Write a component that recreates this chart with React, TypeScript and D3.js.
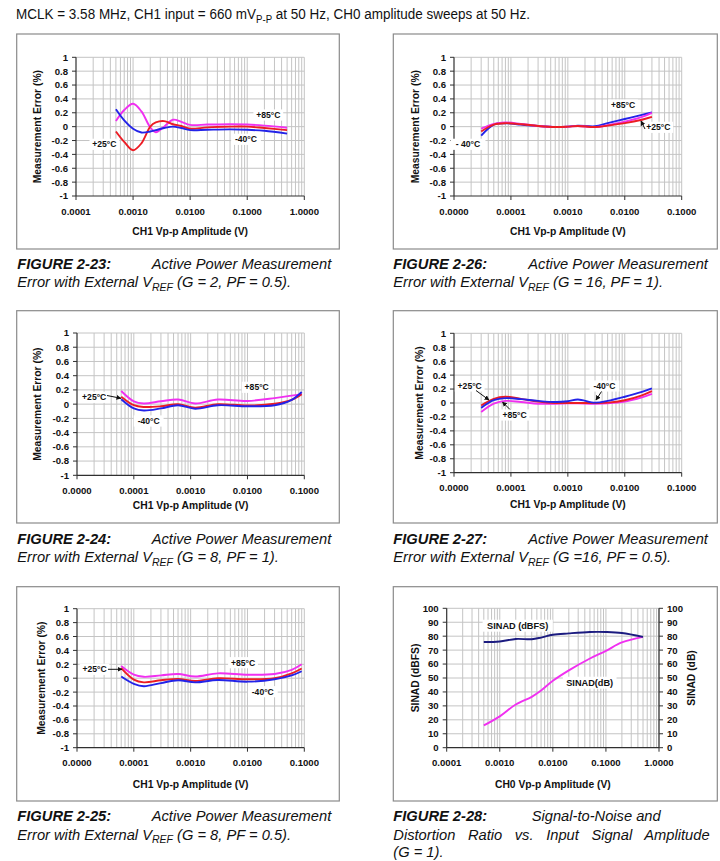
import React from "react";
import * as d3 from "d3";

const FONT = "'Liberation Sans', Arial, Helvetica, sans-serif";

// ---------- Figure 2-23: G = 2, PF = 0.5 ----------
const ampG2PF05 = [0.0005, 0.0007, 0.001, 0.0014, 0.002, 0.0025, 0.0035, 0.005, 0.007, 0.01, 0.02, 0.05, 0.1, 0.2, 0.5];
const errG2PF05M40 = [0.25, 0.09, -0.03, -0.085, -0.07, -0.05, -0.02, 0.0, -0.02, -0.05, -0.045, -0.04, -0.045, -0.06, -0.1];
const errG2PF05P25 = [-0.07, -0.22, -0.34, -0.24, 0.0, 0.06, 0.08, 0.035, 0.01, -0.03, -0.01, 0.0, 0.0, -0.02, -0.05];
const errG2PF05P85 = [0.08, 0.24, 0.33, 0.22, -0.01, -0.08, 0.0, 0.1, 0.07, 0.025, 0.03, 0.035, 0.03, 0.015, -0.015];

// ---------- Figure 2-26: G = 16, PF = 1 ----------
const ampG16PF1 = [0.00003, 0.00005, 0.00008, 0.00015, 0.0003, 0.0006, 0.001, 0.0015, 0.003, 0.005, 0.01, 0.02, 0.03];
const errG16PF1M40 = [-0.13, 0.03, 0.05, 0.03, 0.01, -0.005, 0.0, 0.015, 0.005, 0.05, 0.11, 0.17, 0.205];
const errG16PF1P25 = [-0.07, 0.03, 0.05, 0.035, 0.01, -0.005, 0.0, 0.01, -0.005, 0.015, 0.05, 0.1, 0.14];
const errG16PF1P85 = [-0.03, 0.04, 0.06, 0.04, 0.01, -0.005, 0.0, 0.01, -0.005, 0.02, 0.07, 0.14, 0.2];

// ---------- Figure 2-24: G = 8, PF = 1 ----------
const ampG8PF1 = [0.00006, 0.0001, 0.00015, 0.0003, 0.0006, 0.0012, 0.003, 0.01, 0.03, 0.06, 0.09];
const errG8PF1M40 = [0.07, -0.06, -0.09, -0.06, -0.015, -0.065, -0.015, -0.03, -0.015, 0.06, 0.17];
const errG8PF1P25 = [0.105, -0.015, -0.04, -0.03, 0.0, -0.05, 0.0, -0.02, 0.005, 0.06, 0.14];
const errG8PF1P85 = [0.185, 0.04, 0.01, 0.04, 0.065, 0.01, 0.065, 0.045, 0.085, 0.12, 0.14];

// ---------- Figure 2-27: G = 16, PF = 0.5 ----------
const ampG16PF05 = [0.00003, 0.00005, 0.00008, 0.00015, 0.0003, 0.0006, 0.001, 0.0015, 0.003, 0.005, 0.01, 0.02, 0.03];
const errG16PF05M40 = [-0.07, 0.04, 0.07, 0.055, 0.03, 0.015, 0.025, 0.05, 0.005, 0.03, 0.09, 0.16, 0.21];
const errG16PF05P25 = [-0.035, 0.06, 0.09, 0.06, 0.02, 0.0, 0.0, 0.0, 0.0, 0.005, 0.04, 0.11, 0.17];
const errG16PF05P85 = [-0.13, -0.01, 0.03, 0.015, -0.01, -0.01, -0.005, -0.005, -0.01, -0.005, 0.02, 0.08, 0.13];

// ---------- Figure 2-25: G = 8, PF = 0.5 ----------
const ampG8PF05 = [0.00006, 0.0001, 0.00015, 0.0003, 0.0006, 0.0012, 0.003, 0.01, 0.03, 0.06, 0.09];
const errG8PF05M40 = [0.025, -0.08, -0.115, -0.07, -0.03, -0.06, -0.025, -0.05, -0.015, 0.04, 0.1];
const errG8PF05P25 = [0.145, -0.02, -0.06, -0.03, -0.01, -0.04, 0.0, -0.015, 0.0, 0.07, 0.14];
const errG8PF05P85 = [0.175, 0.05, 0.02, 0.04, 0.06, 0.025, 0.07, 0.05, 0.06, 0.12, 0.2];

// ---------- Figure 2-28: SINAD vs. CH0 amplitude (G = 1) ----------
const ampSinad = [0.0005, 0.001, 0.002, 0.004, 0.006, 0.01, 0.02, 0.05, 0.1, 0.2, 0.5];
const sinadDbfs = [75.8, 76.2, 78, 77.8, 79, 81, 82, 83, 83, 82.3, 79.5];
const sinadDb = [16, 22.5, 31, 36.5, 41, 48, 55.5, 64, 69.5, 75.5, 79.5];

// ---------- Axis ticks ----------
const errorTicks = [-1, -0.8, -0.6, -0.4, -0.2, 0, 0.2, 0.4, 0.6, 0.8, 1];
const sinadTicks = [0, 10, 20, 30, 40, 50, 60, 70, 80, 90, 100];

const BLUE = "#2323e8";
const RED = "#ec1c24";
const MAGENTA = "#f030f0";
const NAVY = "#1c1c80";
const GRID = "#c4c4c4";
const AXIS = "#303030";

type Series = { xs: number[]; ys: number[]; color: string };
type Note = { text: string; x: number; y: number };
type Arrow = [number, number, number, number];

type PanelProps = {
  box: [number, number, number, number];
  plot: [number, number, number, number];
  xDomain: [number, number];
  yDomain: [number, number];
  yTicks: number[];
  series: Series[];
  notes: Note[];
  arrows?: Arrow[];
  tickLabelY: number;
  titleY: number;
  yTitleX: number;
  xTitle: string;
  yTitle: string;
  rightTitle?: string;
  rightTitleX?: number;
  noteSize?: number;
};

function Panel(p: PanelProps) {
  const [bx, by, bw, bh] = p.box;
  const [l, t, r, b] = p.plot;
  const x = d3.scaleLog().domain(p.xDomain).range([l, r]);
  const y = d3.scaleLinear().domain(p.yDomain).range([b, t]);
  const e0 = Math.round(Math.log10(p.xDomain[0]));
  const e1 = Math.round(Math.log10(p.xDomain[1]));
  const decades = d3.range(e0, e1 + 1).map((e) => Math.pow(10, e));
  const minor = decades.slice(0, -1).flatMap((d) => d3.range(2, 10).map((k) => k * d));
  const fmtX = d3.format(".4f");
  const lineGen = d3
    .line<[number, number]>()
    .x((d) => x(d[0]))
    .y((d) => y(d[1]))
    .curve(d3.curveCatmullRom.alpha(0.5));
  const path = (s: Series) => lineGen(s.xs.map((v, i) => [v, s.ys[i]] as [number, number])) || "";
  const tickFs = 9.6;
  const titleFs = 10.3;
  const noteFs = p.noteSize ?? 8.6;
  const cy = (t + b) / 2;
  const cx = (l + r) / 2;

  return (
    <g>
      <rect x={bx} y={by} width={bw} height={bh} fill="#fff" stroke="#8a8a8a" strokeWidth={1.2} />
      {/* grid */}
      {p.yTicks.map((v) =>
        v === p.yDomain[0] ? null : (
          <line key={"h" + v} x1={l} x2={r} y1={y(v)} y2={y(v)} stroke={GRID} strokeWidth={1} />
        )
      )}
      {[...decades.slice(1), ...minor].map((v) => (
        <line key={"v" + v} x1={x(v)} x2={x(v)} y1={t} y2={b} stroke={GRID} strokeWidth={1} />
      ))}
      {/* axes */}
      <line x1={l} x2={l} y1={t} y2={b} stroke={AXIS} strokeWidth={1.2} />
      <line x1={l} x2={r} y1={b} y2={b} stroke={AXIS} strokeWidth={1.2} />
      {p.yTicks.map((v) => (
        <line key={"yt" + v} x1={l - 4} x2={l} y1={y(v)} y2={y(v)} stroke={AXIS} strokeWidth={1} />
      ))}
      {decades.map((v) => (
        <line key={"xt" + v} x1={x(v)} x2={x(v)} y1={b} y2={b + 4} stroke={AXIS} strokeWidth={1} />
      ))}
      {p.rightTitle && (
        <g>
          <line x1={r} x2={r} y1={t} y2={b} stroke={AXIS} strokeWidth={1.2} />
          {p.yTicks.map((v) => (
            <line key={"rt" + v} x1={r} x2={r + 4} y1={y(v)} y2={y(v)} stroke={AXIS} strokeWidth={1} />
          ))}
        </g>
      )}
      {/* tick labels */}
      <g fontFamily={FONT} fontWeight="bold" fontSize={tickFs} fill="#111">
        {p.yTicks.map((v) => (
          <text key={"yl" + v} x={l - 8} y={y(v) + 3.4} textAnchor="end">
            {String(v)}
          </text>
        ))}
        {p.rightTitle &&
          p.yTicks.map((v) => (
            <text key={"rl" + v} x={r + 8} y={y(v) + 3.4} textAnchor="start">
              {String(v)}
            </text>
          ))}
        {decades.map((v) => (
          <text key={"xl" + v} x={x(v)} y={p.tickLabelY + 3.4} textAnchor="middle">
            {fmtX(v)}
          </text>
        ))}
      </g>
      {/* axis titles */}
      <g fontFamily={FONT} fontWeight="bold" fontSize={titleFs} fill="#111">
        <text x={cx} y={p.titleY + 3.7} textAnchor="middle">
          {p.xTitle}
        </text>
        <text transform={`translate(${p.yTitleX + 3.7},${cy}) rotate(-90)`} textAnchor="middle">
          {p.yTitle}
        </text>
        {p.rightTitle && (
          <text transform={`translate(${(p.rightTitleX ?? 0) + 3.7},${cy}) rotate(-90)`} textAnchor="middle">
            {p.rightTitle}
          </text>
        )}
      </g>
      {/* series */}
      {p.series.map((s, i) => (
        <path key={"s" + i} d={path(s)} fill="none" stroke={s.color} strokeWidth={1.9} strokeLinejoin="round" />
      ))}
      {/* annotations */}
      {p.notes.map((n, i) => {
        const w = n.text.length * noteFs * 0.6 + 4;
        return (
          <g key={"n" + i}>
            <rect x={n.x - w / 2} y={n.y - noteFs * 0.65} width={w} height={noteFs * 1.3} fill="#fff" />
            <text x={n.x} y={n.y + noteFs * 0.36} textAnchor="middle" fontFamily={FONT} fontWeight="bold" fontSize={noteFs} fill="#111">
              {n.text}
            </text>
          </g>
        );
      })}
      {(p.arrows || []).map((a, i) => (
        <line key={"a" + i} x1={a[0]} y1={a[1]} x2={a[2]} y2={a[3]} stroke="#111" strokeWidth={1} markerEnd="url(#arrowHead)" />
      ))}
    </g>
  );
}

const CAP_FS = 14.7;

function VrefLine({ x, y, tail }: { x: number; y: number; tail: string }) {
  return (
    <text x={x} y={y} fontFamily={FONT} fontStyle="italic" fontSize={CAP_FS} fill="#111">
      Error with External V
      <tspan dy={3.5} fontSize={10.5}>
        REF
      </tspan>
      <tspan dy={-3.5}>{tail}</tspan>
    </text>
  );
}

function CaptionHead({ x, y, num, x2, title }: { x: number; y: number; num: string; x2: number; title: string }) {
  return (
    <g fontFamily={FONT} fontStyle="italic" fontSize={CAP_FS} fill="#111">
      <text x={x} y={y} fontWeight="bold">
        {num}
      </text>
      <text x={x2} y={y}>
        {title}
      </text>
    </g>
  );
}

const ERR_TITLE = "Measurement Error (%)";
const AMP_TITLE = "CH1 Vp-p Amplitude (V)";

export default function App() {
  return (
    <svg
      width={720}
      height={861}
      viewBox="0 0 720 861"
      style={{ position: "absolute", left: 0, top: 0, background: "#fff" }}
    >
      <defs>
        <marker id="arrowHead" viewBox="0 0 10 10" refX="9" refY="5" markerWidth="5" markerHeight="5" orient="auto">
          <path d="M0,0 L10,5 L0,10 z" fill="#111" />
        </marker>
      </defs>
      <rect x={0} y={0} width={720} height={861} fill="#fff" />

      {/* test-condition note, set in a narrow face */}
      <g transform="translate(16,0) scale(0.918,1)">
        <text x={0} y={19.5} fontFamily={FONT} fontSize={CAP_FS} fill="#111">
          MCLK = 3.58 MHz, CH1 input = 660 mV
          <tspan dy={3.5} fontSize={10.5}>
            P-P
          </tspan>
          <tspan dy={-3.5}> at 50 Hz, CH0 amplitude sweeps at 50 Hz.</tspan>
        </text>
      </g>

      {/* Figure 2-23 */}
      <Panel
        box={[16.7, 34, 322.6, 215]}
        plot={[76, 57.3, 304.3, 196]}
        xDomain={[1e-4, 1]}
        yDomain={[-1, 1]}
        yTicks={errorTicks}
        series={[
          { xs: ampG2PF05, ys: errG2PF05P85, color: MAGENTA },
          { xs: ampG2PF05, ys: errG2PF05P25, color: RED },
          { xs: ampG2PF05, ys: errG2PF05M40, color: BLUE },
        ]}
        notes={[
          { text: "+85°C", x: 268.3, y: 115 },
          { text: "-40°C", x: 246, y: 139.3 },
          { text: "+25°C", x: 104.4, y: 144.3 },
        ]}
        tickLabelY={212}
        titleY={231.7}
        yTitleX={37.7}
        xTitle={AMP_TITLE}
        yTitle={ERR_TITLE}
      />
      <CaptionHead x={17.3} y={269.3} num="FIGURE 2-23:" x2={151.7} title="Active Power Measurement" />
      <VrefLine x={17.3} y={287.3} tail=" (G = 2, PF = 0.5)." />

      {/* Figure 2-26 */}
      <Panel
        box={[393.3, 34, 324, 215]}
        plot={[454, 57.3, 681.7, 196]}
        xDomain={[1e-5, 0.1]}
        yDomain={[-1, 1]}
        yTicks={errorTicks}
        series={[
          { xs: ampG16PF1, ys: errG16PF1M40, color: BLUE },
          { xs: ampG16PF1, ys: errG16PF1P85, color: MAGENTA },
          { xs: ampG16PF1, ys: errG16PF1P25, color: RED },
        ]}
        notes={[
          { text: "+85°C", x: 623, y: 105 },
          { text: "+25°C", x: 658.3, y: 127.3 },
          { text: "- 40°C", x: 468, y: 144.3 },
        ]}
        arrows={[[645, 129, 641, 121]]}
        tickLabelY={212}
        titleY={231.7}
        yTitleX={415.7}
        xTitle={AMP_TITLE}
        yTitle={ERR_TITLE}
      />
      <CaptionHead x={393.3} y={269.3} num="FIGURE 2-26:" x2={528.3} title="Active Power Measurement" />
      <VrefLine x={393.3} y={287.3} tail=" (G = 16, PF = 1)." />

      {/* Figure 2-24 */}
      <Panel
        box={[16.7, 310.7, 322.6, 212.3]}
        plot={[77, 333, 304.3, 475.3]}
        xDomain={[1e-5, 0.1]}
        yDomain={[-1, 1]}
        yTicks={errorTicks}
        series={[
          { xs: ampG8PF1, ys: errG8PF1P85, color: MAGENTA },
          { xs: ampG8PF1, ys: errG8PF1P25, color: RED },
          { xs: ampG8PF1, ys: errG8PF1M40, color: BLUE },
        ]}
        notes={[
          { text: "+25°C", x: 94.2, y: 397.3 },
          { text: "+85°C", x: 256.7, y: 387.3 },
          { text: "-40°C", x: 148.7, y: 421 },
        ]}
        arrows={[[107, 395.5, 121, 398.3]]}
        tickLabelY={491}
        titleY={505.7}
        yTitleX={37.7}
        xTitle={AMP_TITLE}
        yTitle={ERR_TITLE}
      />
      <CaptionHead x={17.3} y={544} num="FIGURE 2-24:" x2={151.7} title="Active Power Measurement" />
      <VrefLine x={17.3} y={562} tail=" (G = 8, PF = 1)." />

      {/* Figure 2-27 */}
      <Panel
        box={[393.3, 310.7, 324, 212.3]}
        plot={[454, 333.3, 681.7, 472.7]}
        xDomain={[1e-5, 0.1]}
        yDomain={[-1, 1]}
        yTicks={errorTicks}
        series={[
          { xs: ampG16PF05, ys: errG16PF05P85, color: MAGENTA },
          { xs: ampG16PF05, ys: errG16PF05P25, color: RED },
          { xs: ampG16PF05, ys: errG16PF05M40, color: BLUE },
        ]}
        notes={[
          { text: "+25°C", x: 469.7, y: 386 },
          { text: "+85°C", x: 514.5, y: 415 },
          { text: "-40°C", x: 604.5, y: 386 },
        ]}
        arrows={[
          [476, 390.5, 489, 400],
          [510, 409.5, 502.5, 402],
          [601.5, 391.5, 596, 400],
        ]}
        tickLabelY={487.7}
        titleY={504.3}
        yTitleX={419.3}
        xTitle={AMP_TITLE}
        yTitle={ERR_TITLE}
      />
      <CaptionHead x={393.3} y={544} num="FIGURE 2-27:" x2={528.3} title="Active Power Measurement" />
      <VrefLine x={393.3} y={562} tail=" (G =16, PF = 0.5)." />

      {/* Figure 2-25 */}
      <Panel
        box={[16.7, 586.7, 322.6, 214.3]}
        plot={[77, 608.7, 304.3, 747.7]}
        xDomain={[1e-5, 0.1]}
        yDomain={[-1, 1]}
        yTicks={errorTicks}
        series={[
          { xs: ampG8PF05, ys: errG8PF05P85, color: MAGENTA },
          { xs: ampG8PF05, ys: errG8PF05P25, color: RED },
          { xs: ampG8PF05, ys: errG8PF05M40, color: BLUE },
        ]}
        notes={[
          { text: "+25°C", x: 94.5, y: 669.3 },
          { text: "+85°C", x: 243, y: 662.7 },
          { text: "-40°C", x: 262.8, y: 691.7 },
        ]}
        arrows={[[108, 669.3, 122, 669.3]]}
        tickLabelY={762.3}
        titleY={784}
        yTitleX={41.7}
        xTitle={AMP_TITLE}
        yTitle={ERR_TITLE}
      />
      <CaptionHead x={17.3} y={821.3} num="FIGURE 2-25:" x2={151.7} title="Active Power Measurement" />
      <VrefLine x={17.3} y={839.5} tail=" (G = 8, PF = 0.5)." />

      {/* Figure 2-28 */}
      <Panel
        box={[393.3, 586.7, 324, 214.3]}
        plot={[446.7, 608.3, 659, 747.7]}
        xDomain={[1e-4, 1]}
        yDomain={[0, 100]}
        yTicks={sinadTicks}
        series={[
          { xs: ampSinad, ys: sinadDb, color: MAGENTA },
          { xs: ampSinad, ys: sinadDbfs, color: NAVY },
        ]}
        notes={[
          { text: "SINAD (dBFS)", x: 517.7, y: 625.7 },
          { text: "SINAD(dB)", x: 589.7, y: 682.7 },
        ]}
        noteSize={9.2}
        tickLabelY={762.3}
        titleY={784}
        yTitleX={415.7}
        xTitle="CH0 Vp-p Amplitude (V)"
        yTitle="SINAD (dBFS)"
        rightTitle="SINAD (dB)"
        rightTitleX={691.7}
      />
      <CaptionHead x={393.3} y={821.3} num="FIGURE 2-28:" x2={531.7} title="Signal-to-Noise and" />
      <text x={393.3} y={839.7} fontFamily={FONT} fontStyle="italic" fontSize={CAP_FS} fill="#111" wordSpacing={8.5}>
        Distortion Ratio vs. Input Signal Amplitude
      </text>
      <text x={393.3} y={857} fontFamily={FONT} fontStyle="italic" fontSize={CAP_FS} fill="#111">
        (G = 1).
      </text>
    </svg>
  );
}
